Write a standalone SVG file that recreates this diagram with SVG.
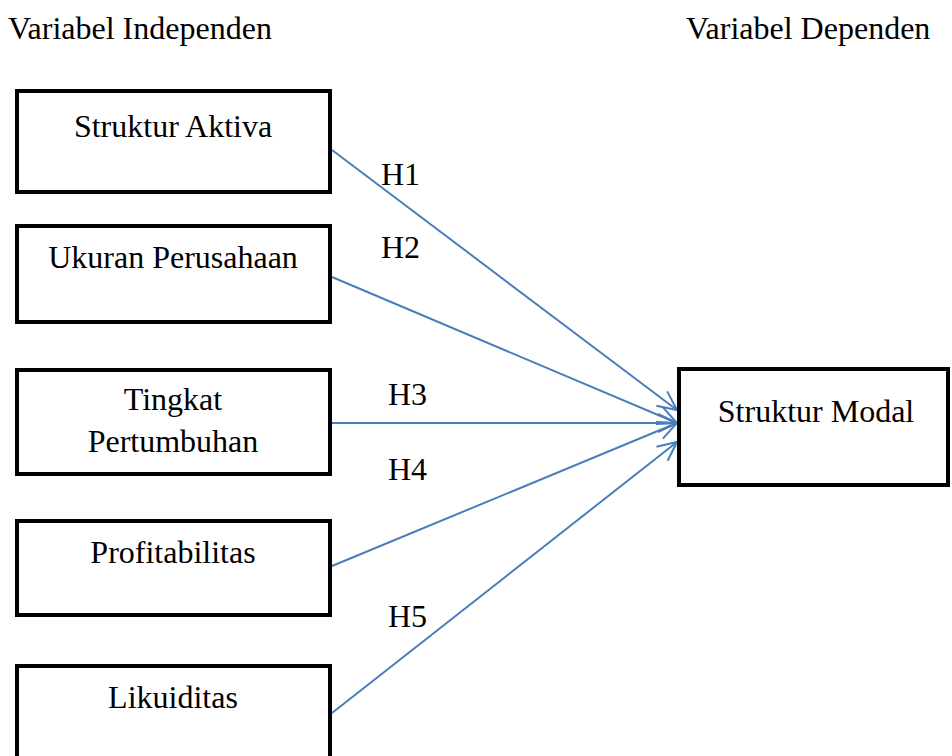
<svg xmlns="http://www.w3.org/2000/svg" width="952" height="756" viewBox="0 0 952 756">
<style>
.box{fill:#fff;stroke:#000;stroke-width:4}
text{font-family:"Liberation Serif","Times New Roman",serif;font-size:32px;fill:#000}
.c{text-anchor:middle}
.conn{stroke:#4a7ebb;stroke-width:2;fill:none;marker-end:url(#arr)}
</style>
<defs>
<marker id="arr" markerUnits="userSpaceOnUse" markerWidth="22" markerHeight="22" viewBox="0 0 22 22" refX="20" refY="11" orient="auto">
<path d="M1,2 L20,11 L1,20" fill="none" stroke="#4a7ebb" stroke-width="2"/>
</marker>
</defs>
<rect width="952" height="756" fill="#fff"/>
<text x="8" y="39">Variabel Independen</text>
<text x="686" y="39">Variabel Dependen</text>
<g id="connectors">
<line class="conn" x1="332" y1="150" x2="677" y2="410"/>
<line class="conn" x1="332" y1="277" x2="677" y2="423"/>
<line class="conn" x1="332" y1="423" x2="677" y2="423"/>
<line class="conn" x1="332" y1="566" x2="677" y2="423"/>
<line class="conn" x1="332" y1="713" x2="677" y2="442"/>
</g>
<g id="labels">
<text x="381" y="185">H1</text>
<text x="381" y="258">H2</text>
<text x="388" y="405">H3</text>
<text x="388" y="480">H4</text>
<text x="388" y="627">H5</text>
</g>
<g id="struktur-aktiva">
<rect class="box" x="17" y="91" width="313" height="101"/>
<text class="c" x="173" y="137">Struktur Aktiva</text>
</g>
<g id="ukuran-perusahaan">
<rect class="box" x="17" y="226" width="313" height="96"/>
<text class="c" x="173" y="268">Ukuran Perusahaan</text>
</g>
<g id="tingkat-pertumbuhan">
<rect class="box" x="17" y="370" width="313" height="104"/>
<text class="c" x="173" y="410">Tingkat</text>
<text class="c" x="173" y="452">Pertumbuhan</text>
</g>
<g id="profitabilitas">
<rect class="box" x="17" y="521" width="313" height="94"/>
<text class="c" x="173" y="563">Profitabilitas</text>
</g>
<g id="likuiditas">
<rect class="box" x="17" y="666" width="313" height="110"/>
<text class="c" x="173" y="708">Likuiditas</text>
</g>
<g id="struktur-modal">
<rect class="box" x="679" y="369" width="269" height="116"/>
<text class="c" x="816" y="422">Struktur Modal</text>
</g>
</svg>
